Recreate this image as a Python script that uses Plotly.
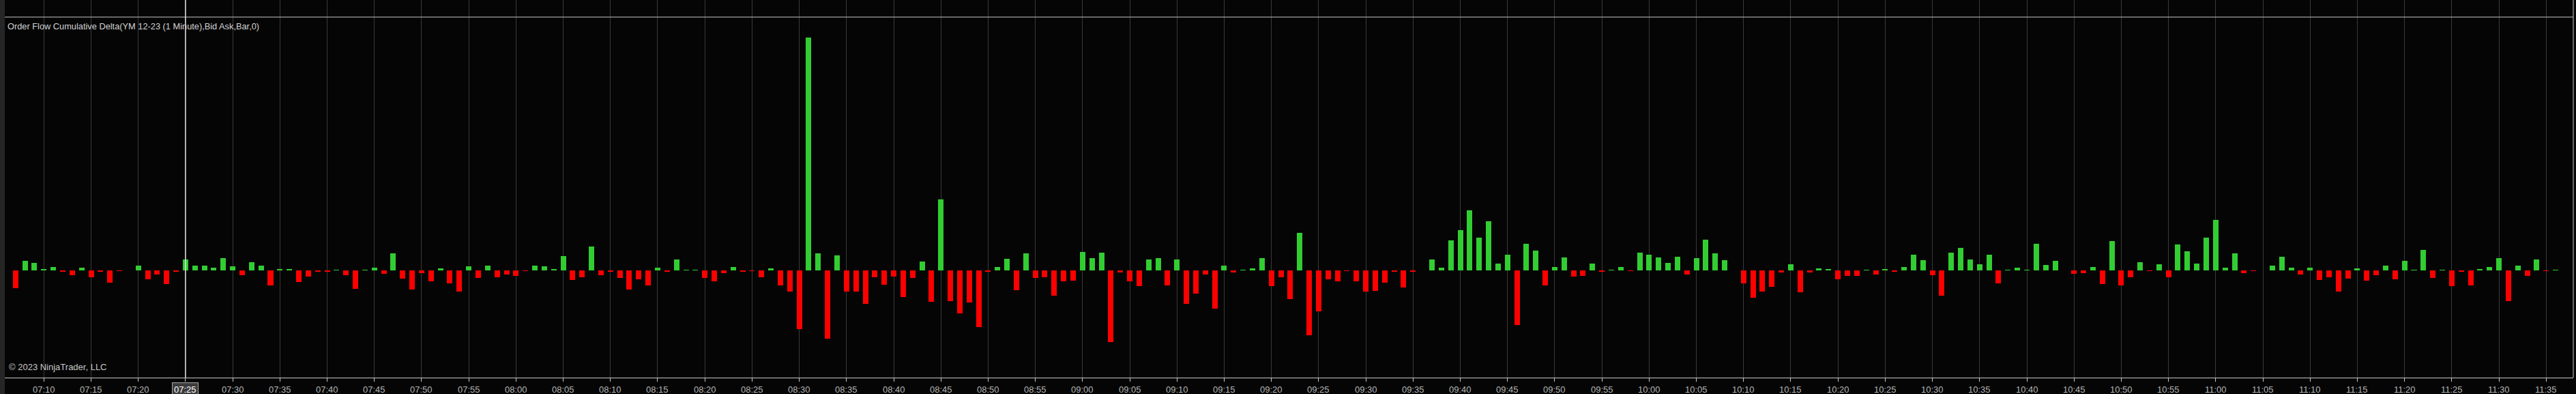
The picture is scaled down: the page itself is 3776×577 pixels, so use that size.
import pandas as pd
import plotly.graph_objects as go

# ---------------- data ----------------
session_date = "2023-10-16"
first_bar = "07:07"
bar_count = 270

# cumulative delta per 1-minute bar (arbitrary units)
delta_0707 = [-77, 42, 33, 6, 15, -5, -20, 12, -29, -5]
delta_0717 = [-53, -3, 0, 21, -38, -17, -59, -5, 48, 21]
delta_0727 = [21, 12, 54, 18, -20, 36, 21, -65, 6, 6]
delta_0737 = [-50, -26, -5, -5, 3, -20, -80, 3, 12, -14]
delta_0747 = [75, -35, -83, -11, -47, 9, -56, -92, 18, -32]
delta_0757 = [21, -29, -17, -23, -2, 21, 18, 6, 63, -41]
delta_0807 = [-29, 105, -20, -5, -32, -83, -38, -65, 12, -5]
delta_0817 = [48, 3, 3, -32, -47, -11, 15, -5, -2, -29]
delta_0827 = [9, -65, -92, -257, 1023, 75, -299, 66, -92, -92]
delta_0837 = [-146, -29, -62, -26, -116, -32, 39, -137, 312, -134]
delta_0847 = [-188, -140, -248, -5, 15, 51, -86, 75, -32, -29]
delta_0857 = [-110, -47, -44, 81, 54, 78, -314, -8, -47, -68]
delta_0907 = [48, 54, -65, 48, -146, -101, -17, -167, 21, -8]
delta_0917 = [3, 9, 54, -68, -29, -125, 165, -284, -179, -38]
delta_0927 = [-47, -2, -47, -92, -89, -53, -5, -74, -5, 0]
delta_0937 = [48, 12, 132, 177, 264, 144, 216, 30, 69, -239]
delta_0947 = [117, 87, -65, 15, 57, -26, -23, 30, -5, 3]
delta_0957 = [15, -3, 78, 69, 57, 33, 60, -17, 54, 135]
delta_1007 = [75, 45, 0, -56, -119, -92, -71, -8, 27, -95]
delta_1017 = [-8, 9, 6, -38, -23, -23, 3, -17, 6, -5]
delta_1027 = [15, 69, 45, -20, -110, 78, 99, 48, 27, 69]
delta_1037 = [-56, 3, 12, 3, 117, 24, 42, 0, -14, -11]
delta_1047 = [15, -59, 129, -65, -29, 36, -2, 27, -29, 114]
delta_1057 = [84, 30, 144, 222, 12, 75, -11, -2, 0, 21]
delta_1107 = [60, 12, -17, 12, -41, -29, -92, -35, 9, -44]
delta_1117 = [-20, 21, -38, 42, 3, 90, -32, 3, -68, -5]
delta_1127 = [-65, 6, 15, 54, -134, 21, -23, 48, -2, 3]

tick_labels = [
    "07:10", "07:15", "07:20", "07:25", "07:30", "07:35", "07:40", "07:45", "07:50", "07:55",
    "08:00", "08:05", "08:10", "08:15", "08:20", "08:25", "08:30", "08:35", "08:40", "08:45",
    "08:50", "08:55", "09:00", "09:05", "09:10", "09:15", "09:20", "09:25", "09:30", "09:35",
    "09:40", "09:45", "09:50", "09:55", "10:00", "10:05", "10:10", "10:15", "10:20", "10:25",
    "10:30", "10:35", "10:40", "10:45", "10:50", "10:55", "11:00", "11:05", "11:10", "11:15",
    "11:20", "11:25", "11:30", "11:35",
]
crosshair_label = "07:25"
view_start = "07:05:51.6"
view_end = "11:37:52.2"

title_text = "Order Flow Cumulative Delta(YM 12-23 (1 Minute),Bid Ask,Bar,0)"
copyright_text = "© 2023 NinjaTrader, LLC"

# ---------------- build ----------------
delta = (delta_0707 + delta_0717 + delta_0727 + delta_0737 + delta_0747 + delta_0757 +
         delta_0807 + delta_0817 + delta_0827 + delta_0837 + delta_0847 + delta_0857 +
         delta_0907 + delta_0917 + delta_0927 + delta_0937 + delta_0947 + delta_0957 +
         delta_1007 + delta_1017 + delta_1027 + delta_1037 + delta_1047 + delta_1057 +
         delta_1107 + delta_1117 + delta_1127)
times = pd.date_range(f"{session_date} {first_bar}", periods=bar_count, freq="1min")
assert len(delta) == len(times)

UP = "#32CD32"
DN = "#FF0000"
colors = [UP if v >= 0 else DN for v in delta]

tickvals = [pd.Timestamp(f"{session_date} {t}") for t in tick_labels]
x0 = pd.Timestamp(f"{session_date} {view_start}")
x1 = pd.Timestamp(f"{session_date} {view_end}")
xh = pd.Timestamp(f"{session_date} {crosshair_label}")

PLOT_H = 553  # plot area height in px (page height 577, bottom margin 24)

fig = go.Figure()
fig.add_trace(go.Bar(
    x=times, y=delta, width=34700,
    marker=dict(color=colors, line=dict(width=0)),
    hoverinfo="x+y", showlegend=False,
))
# current-value price marker on the right edge
fig.add_trace(go.Scatter(
    x=[x1 + pd.Timedelta(seconds=14)], y=[delta[-1]], mode="markers",
    marker=dict(symbol="hexagon2", size=20, color=UP, line=dict(color="#9a9a9a", width=1)),
    cliponaxis=False, showlegend=False, hoverinfo="skip",
))

fig.update_layout(
    width=3776, height=577,
    margin=dict(l=7, r=4, t=0, b=24),
    paper_bgcolor="#050505",
    plot_bgcolor="#050505",
    font=dict(family="Liberation Sans, Arial, sans-serif", color="#b4b4b4"),
    bargap=0,
)
fig.update_xaxes(
    type="date", range=[x0, x1],
    tickvals=tickvals, ticktext=tick_labels, showticklabels=False,
    showgrid=True, gridcolor="#3a3a3a", gridwidth=1,
    showline=True, linecolor="#c8c8c8", linewidth=1,
    ticks="outside", ticklen=5, tickcolor="#c8c8c8", tickwidth=1,
    zeroline=False,
)
fig.update_yaxes(
    range=[-471, 1188], showgrid=False, zeroline=False,
    showticklabels=False, showline=False, ticks="",
)

shapes = [
    # left gray strip
    dict(type="rect", xref="paper", yref="paper", x0=-7 / 3765, x1=0, y0=-24 / PLOT_H, y1=1,
         fillcolor="#262626", line=dict(width=0), layer="above"),
    # panel divider at top
    dict(type="line", xref="paper", yref="paper", x0=0, x1=1,
         y0=(PLOT_H - 25) / PLOT_H, y1=(PLOT_H - 25) / PLOT_H,
         line=dict(color="#c8c8c8", width=1)),
    # right border
    dict(type="line", xref="paper", yref="paper", x0=1, x1=1, y0=0, y1=1,
         line=dict(color="#c8c8c8", width=1)),
    # crosshair
    dict(type="line", xref="x", yref="paper", x0=xh, x1=xh, y0=0, y1=1,
         line=dict(color="#e6e6e6", width=1.5)),
]
fig.update_layout(shapes=shapes)

# time labels under the axis
for tv, lab in zip(tickvals, tick_labels):
    if lab == crosshair_label:
        continue
    fig.add_annotation(
        x=tv, xref="x", xanchor="center",
        y=(PLOT_H - 570) / PLOT_H, yref="paper", yanchor="middle",
        text=lab, showarrow=False, borderpad=0,
        font=dict(size=13, color="#b4b4b4"),
    )
# highlighted crosshair time label
fig.add_annotation(
    x=xh, xref="x", xanchor="center",
    y=(PLOT_H - 570) / PLOT_H, yref="paper", yanchor="middle",
    text=crosshair_label, showarrow=False,
    font=dict(size=13, color="#ffffff"),
    bgcolor="#3c3c3c", bordercolor="#a8a8a8", borderwidth=1, borderpad=2,
)

fig.add_annotation(
    x=0, xref="paper", xanchor="left", xshift=2,
    y=(PLOT_H - 39) / PLOT_H, yref="paper", yanchor="middle",
    text=title_text, showarrow=False,
    font=dict(size=12.8, color="#d2d2d2"),
)
fig.add_annotation(
    x=0, xref="paper", xanchor="left", xshift=4,
    y=(PLOT_H - 537) / PLOT_H, yref="paper", yanchor="middle",
    text=copyright_text, showarrow=False,
    font=dict(size=13, color="#c8c8c8"),
)

fig.write_html(
    "out.html",
    config={"displayModeBar": False},
    post_script="document.body.style.margin='0';document.body.style.overflow='hidden';",
)
